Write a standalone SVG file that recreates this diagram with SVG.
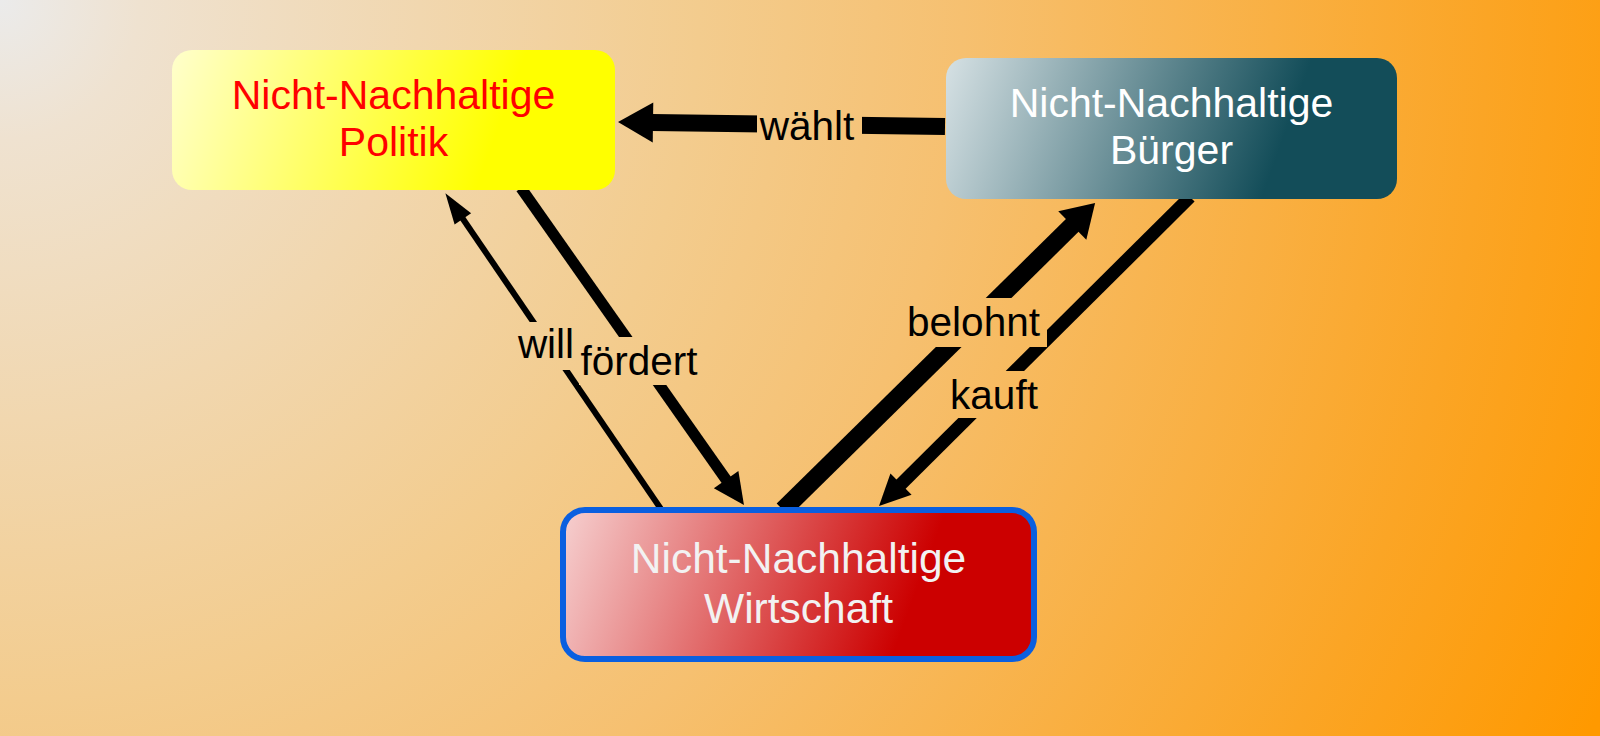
<svg xmlns="http://www.w3.org/2000/svg" width="1600" height="736" viewBox="0 0 1600 736">
  <style>
    .lbl { font-family: "Liberation Sans", Arial, sans-serif; font-size: 40.5px; fill: #000; text-anchor: middle; }
    .nt { font-family: "Liberation Sans", Arial, sans-serif; font-size: 41px; text-anchor: middle; }
    .conn { fill: none; stroke: #000; stroke-linecap: butt; }
    .head { fill: #000; }
  </style>
  <defs>
    <radialGradient id="bg" gradientUnits="userSpaceOnUse" cx="0" cy="0" r="1750">
      <stop offset="0" stop-color="#ebebeb"/>
      <stop offset="0.08" stop-color="#efe2d0"/>
      <stop offset="0.4" stop-color="#f3cc8e"/>
      <stop offset="0.55" stop-color="#f6c070"/>
      <stop offset="0.85" stop-color="#fba525"/>
      <stop offset="1" stop-color="#ff9900"/>
    </radialGradient>
    <linearGradient id="gPol" gradientUnits="userSpaceOnUse" x1="172" y1="50" x2="485" y2="165">
      <stop offset="0" stop-color="#ffffcc"/>
      <stop offset="1" stop-color="#ffff00"/>
    </linearGradient>
    <linearGradient id="gBur" gradientUnits="userSpaceOnUse" x1="946" y1="58" x2="1270" y2="175">
      <stop offset="0" stop-color="#d6e1e4"/>
      <stop offset="1" stop-color="#134d59"/>
    </linearGradient>
    <linearGradient id="gWir" gradientUnits="userSpaceOnUse" x1="563" y1="510" x2="900" y2="635">
      <stop offset="0" stop-color="#f6d0d0"/>
      <stop offset="1" stop-color="#cc0000"/>
    </linearGradient>
    <marker id="hWahlt" markerUnits="userSpaceOnUse" orient="auto" overflow="visible" refX="0" refY="0" markerWidth="1" markerHeight="1">
      <path class="head" d="M-1,-20 L34,0 L-1,20 Z"/>
    </marker>
    <marker id="hFoerdert" markerUnits="userSpaceOnUse" orient="auto" overflow="visible" refX="0" refY="0" markerWidth="1" markerHeight="1">
      <path class="head" d="M-1,-15 L30,0 L-1,15 Z"/>
    </marker>
    <marker id="hWill" markerUnits="userSpaceOnUse" orient="auto" overflow="visible" refX="0" refY="0" markerWidth="1" markerHeight="1">
      <path class="head" d="M-1,-10 L30,0 L-1,10 Z"/>
    </marker>
    <marker id="hBelohnt" markerUnits="userSpaceOnUse" orient="auto" overflow="visible" refX="0" refY="0" markerWidth="1" markerHeight="1">
      <path class="head" d="M-1,-20 L31,0 L-1,20 Z"/>
    </marker>
    <marker id="hKauft" markerUnits="userSpaceOnUse" orient="auto" overflow="visible" refX="0" refY="0" markerWidth="1" markerHeight="1">
      <path class="head" d="M-1,-15 L30,0 L-1,15 Z"/>
    </marker>
    <mask id="labelGaps" maskUnits="userSpaceOnUse" x="0" y="0" width="1600" height="736">
      <rect x="0" y="0" width="1600" height="736" fill="#fff"/>
      <rect x="757" y="103" width="105" height="48" fill="#000"/>
      <rect x="513" y="322" width="66" height="48" fill="#000"/>
      <rect x="579" y="337" width="120" height="48" fill="#000"/>
      <rect x="904" y="298" width="143" height="49" fill="#000"/>
      <rect x="949" y="371" width="90" height="47" fill="#000"/>
    </mask>
  </defs>

  <rect x="0" y="0" width="1600" height="736" fill="url(#bg)"/>

  <g id="connectors">
    <g mask="url(#labelGaps)">
      <path class="conn" stroke-width="17" d="M945,126.5 L652,122.5" marker-end="url(#hWahlt)"/>
      <path class="conn" stroke-width="11" d="M521,188 L726.7,480.5" marker-end="url(#hFoerdert)"/>
      <path class="conn" stroke-width="6" d="M663,512 L462.3,218" marker-end="url(#hWill)"/>
      <path class="conn" stroke-width="18" d="M783,510 L1073,224.7" marker-end="url(#hBelohnt)"/>
      <path class="conn" stroke-width="13" d="M1190,197 L900.3,484.9" marker-end="url(#hKauft)"/>
    </g>
    <text class="lbl" x="807" y="140">wählt</text>
    <text class="lbl" x="546" y="358">will</text>
    <text class="lbl" x="639" y="375">fördert</text>
    <text class="lbl" x="973.5" y="336">belohnt</text>
    <text class="lbl" x="994" y="409">kauft</text>
  </g>

  <g id="politik">
    <rect x="172" y="50" width="443" height="140" rx="20" fill="url(#gPol)"/>
    <text class="nt" x="393.5" y="109" fill="#ff0000">Nicht-Nachhaltige</text>
    <text class="nt" x="393.5" y="156" fill="#ff0000">Politik</text>
  </g>

  <g id="buerger">
    <rect x="946" y="58" width="451" height="141" rx="20" fill="url(#gBur)"/>
    <text class="nt" x="1171.5" y="117" fill="#ffffff">Nicht-Nachhaltige</text>
    <text class="nt" x="1171.5" y="164" fill="#ffffff">Bürger</text>
  </g>

  <g id="wirtschaft">
    <rect x="563" y="510" width="471" height="149" rx="22" fill="url(#gWir)" stroke="#0a5fe0" stroke-width="6"/>
    <text class="nt" x="798.5" y="573" fill="#f2f2f2" style="font-size:42.5px">Nicht-Nachhaltige</text>
    <text class="nt" x="798.5" y="623" fill="#f2f2f2" style="font-size:42.5px">Wirtschaft</text>
  </g>
</svg>
